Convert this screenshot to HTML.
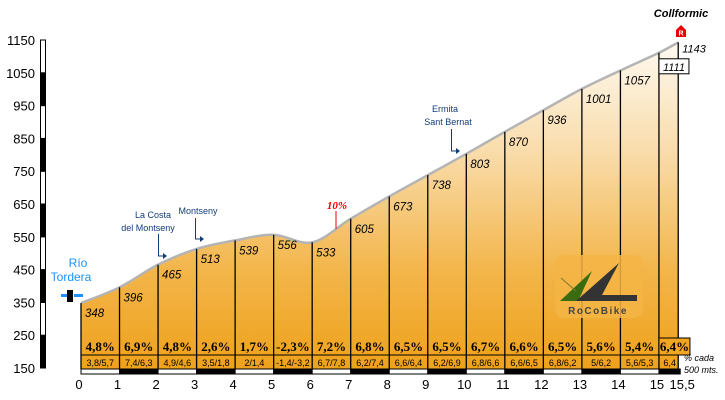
<!DOCTYPE html>
<html><head><meta charset="utf-8">
<style>
html,body{margin:0;padding:0;background:#fff;}
svg{display:block;font-family:"Liberation Sans",sans-serif;}
</style></head>
<body>
<svg id="chart" width="725" height="400" viewBox="0 0 725 400" xmlns="http://www.w3.org/2000/svg">
<defs>
<linearGradient id="fillGrad" x1="0" y1="40" x2="0" y2="370" gradientUnits="userSpaceOnUse">
<stop offset="0" stop-color="#fefaf2"/>
<stop offset="0.35" stop-color="#f9dba8"/>
<stop offset="0.7" stop-color="#f3b54a"/>
<stop offset="1" stop-color="#efa11a"/>
</linearGradient>
</defs>
<g id="axis"></g>
<g id="plot"></g>
<g id="annot">
  <text x="78" y="267" fill="#1e90ff" font-size="12" text-anchor="middle">Río</text>
  <text x="71" y="281" fill="#1e90ff" font-size="12" text-anchor="middle">Tordera</text>
  <g>
    <rect x="67" y="290" width="6" height="12" fill="#000"/>
    <rect x="61" y="294" width="6" height="3" fill="#1e90ff"/>
    <rect x="74" y="294" width="9" height="3" fill="#1e90ff"/>
  </g>
  <text x="153" y="218" fill="#123c78" font-size="9" text-anchor="middle">La Costa</text>
  <text x="148" y="231" fill="#123c78" font-size="9" text-anchor="middle">del Montseny</text>
  <path d="M158.5 234 V256 H164" stroke="#123c78" fill="none"/>
  <path d="M163 253 L167 256 L163 259 Z" fill="#123c78"/>
  <text x="198" y="214" fill="#123c78" font-size="9" text-anchor="middle">Montseny</text>
  <path d="M195.5 218 V239 H201" stroke="#123c78" fill="none"/>
  <path d="M200 236 L204 239 L200 242 Z" fill="#123c78"/>
  <text x="445" y="112" fill="#123c78" font-size="9" text-anchor="middle">Ermita</text>
  <text x="448" y="125" fill="#123c78" font-size="9" text-anchor="middle">Sant Bernat</text>
  <path d="M451.5 129 V151 H457" stroke="#123c78" fill="none"/>
  <path d="M456 148 L460 151 L456 154 Z" fill="#123c78"/>
  <text x="337" y="209" fill="#ee0000" font-size="11" font-weight="bold" font-style="italic" font-family="Liberation Serif,serif" text-anchor="middle">10%</text>
  <line x1="336" y1="211" x2="336" y2="229" stroke="#ee0000"/>
  <text x="681" y="17" fill="#000" font-size="11" font-weight="bold" font-style="italic" text-anchor="middle">Collformic</text>
  <g>
    <path d="M676 30 L681 25 L686 30 L686 37 L676 37 Z" fill="#ee0000"/>
    <text x="681" y="35.5" fill="#fff" font-size="7" font-weight="bold" text-anchor="middle">R</text>
  </g>
  <text x="684" y="361" font-size="9" font-style="italic">% cada</text>
  <text x="684" y="373" font-size="9" font-style="italic">500 mts.</text>
  <g>
    <rect x="555" y="255" width="88" height="63" rx="9" fill="#f4b545" opacity="0.85"/>
    <path d="M560 301 L592 271 L578 301 Z" fill="#3a6b10"/>
    <path d="M576 301 L619 263 L602 295 L637 295 L637 301 Z" fill="#333"/>
    <line x1="561" y1="278" x2="576" y2="291" stroke="#7a7a30"/>
    <text x="598" y="314" font-size="10" font-weight="bold" fill="#444" text-anchor="middle" letter-spacing="1.5">RoCoBike</text>
  </g>
</g>
</svg>
<script>
const kms = [0,1,2,3,4,5,6,7,8,9,10,11,12,13,14,15,15.5];
const elevations = [348,396,465,513,539,556,533,605,673,738,803,870,936,1001,1057,1111,1143];
const gradients = ["4,8%","6,9%","4,8%","2,6%","1,7%","-2,3%","7,2%","6,8%","6,5%","6,5%","6,7%","6,6%","6,5%","5,6%","5,4%","6,4%"];
const halfGradients = ["3,8/5,7","7,4/6,3","4,9/4,6","3,5/1,8","2/1,4","-1,4/-3,2","6,7/7,8","6,2/7,4","6,6/6,4","6,2/6,9","6,8/6,6","6,6/6,5","6,8/6,2","5/6,2","5,6/5,3","6,4"];
const yTicks = [150,250,350,450,550,650,750,850,950,1050,1150];
const xTickLabels = ["0","1","2","3","4","5","6","7","8","9","10","11","12","13","14","15","15,5"];

const NS="http://www.w3.org/2000/svg";
const X = km => 81 + km*38.53;
const Y = v => 368 - (v-150)*0.328;
function mk(tag, attrs, parent){const e=document.createElementNS(NS,tag);for(const k in attrs)e.setAttribute(k,attrs[k]);parent.appendChild(e);return e;}
const axis=document.getElementById('axis'), plot=document.getElementById('plot');

for(let i=0;i<yTicks.length-1;i++){
  const r=mk('rect',{x:40.5,y:Y(yTicks[i+1]),width:5,height:Y(yTicks[i])-Y(yTicks[i+1]),fill:i%2===0?'#000':'#fff',stroke:'#000','stroke-width':1},axis);
  
  
}
yTicks.forEach(v=>{
  const t=mk('text',{x:35,y:Y(v)+5,'font-size':13,'text-anchor':'end',fill:'#000'},axis);
  t.textContent=v;
  
  
});

const pts=kms.map((k,i)=>[X(k),Y(elevations[i])]);
let d=`M${pts[0][0]},${pts[0][1]}`;
for(let i=0;i<pts.length-1;i++){
  const p0=pts[Math.max(0,i-1)],p1=pts[i],p2=pts[i+1],p3=pts[Math.min(pts.length-1,i+2)];
  const c1=[p1[0]+(p2[0]-p0[0])/6,p1[1]+(p2[1]-p0[1])/6];
  const c2=[p2[0]-(p3[0]-p1[0])/6,p2[1]-(p3[1]-p1[1])/6];
  d+=` C${c1[0]},${c1[1]} ${c2[0]},${c2[1]} ${p2[0]},${p2[1]}`;
}
const last=pts[pts.length-1];
const area=mk('path',{d:d+` L${last[0]},369 L${pts[0][0]},369 Z`,fill:'url(#fillGrad)'},plot);


const line=mk('path',{d:d,fill:'none',stroke:'#b4b4b4','stroke-width':2.5},plot);



kms.forEach((k,i)=>{
  const x=X(k);
  const vl=mk('line',{x1:x,y1:Y(elevations[i]),x2:x,y2:369,stroke:'#000','stroke-width':1.3},plot);
  
  
  if(i<kms.length-2){
    const t=mk('text',{x:x+4,y:Y(elevations[i])+14,'font-size':11.5,'font-style':'italic'},plot);
    t.textContent=elevations[i];
    
    
  }
});
{
  const i=kms.length-2, x=X(kms[i]);
  const b=mk('rect',{x:x,y:Y(elevations[i])+6,width:30,height:15,fill:'#fff',stroke:'#000'},plot);
  
  
  const t=mk('text',{x:x+4,y:Y(elevations[i])+18,'font-size':11,'font-style':'italic'},plot);
  t.textContent=elevations[i];
  
  
  const j=kms.length-1;
  const t2=mk('text',{x:X(kms[j])+4,y:Y(elevations[j])+10,'font-size':11,'font-style':'italic'},plot);
  t2.textContent=elevations[j];
  
  
}
const right=X(15.5)+2;
const lb=mk('rect',{x:X(15),y:338,width:31,height:17,fill:'#f1a621',stroke:'#000'},plot);


const hb=mk('line',{x1:X(0),y1:355,x2:right,y2:355,stroke:'#000'},plot);


gradients.forEach((g,i)=>{
  const x0=X(kms[i]), x1=i===gradients.length-1?right:X(kms[i+1]);
  const cx=i===gradients.length-1?x0+15.5:(x0+x1)/2;
  const t=mk('text',{x:cx,y:351,'font-size':13,'font-weight':'bold','font-family':'Liberation Serif,serif','text-anchor':'middle'},plot);
  t.textContent=g;
  
  
  const s=mk('text',{x:(x0+x1)/2,y:366,'font-size':9,'text-anchor':'middle'},plot);
  s.textContent=halfGradients[i];
  
  
  const st=mk('rect',{x:x0,y:369,width:x1-x0,height:5,fill:i%2===0?'#fff':'#000',stroke:'#000','stroke-width':1},plot);
  
  
});
xTickLabels.forEach((l,i)=>{
  const t=mk('text',{x:X(kms[i])-2+(i===kms.length-1?6:0),y:389,'font-size':13,'text-anchor':'middle'},plot);
  t.textContent=l;
  
  
});
</script>
</body></html>
